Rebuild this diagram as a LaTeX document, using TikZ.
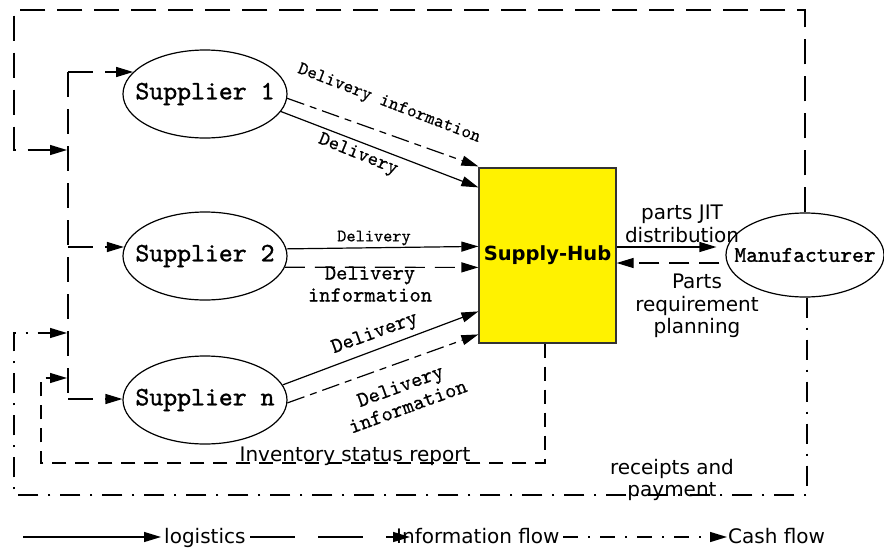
\documentclass[tikz,border=0pt]{standalone}
\usepackage{fontspec}
\newfontfamily\dvs{DejaVu Sans}
\newfontfamily\monof{lmmono10-regular.otf}[FakeBold=1.2]
\newfontfamily\monol{lmmono10-regular.otf}[FakeBold=0.6]
\usetikzlibrary{arrows.meta,shapes.geometric,calc}
\begin{document}
\begin{tikzpicture}[x=1pt,y=-1pt,
  every node/.style={inner sep=0pt},
  ln/.style={line width=1.2pt},
  tip/.style={-{Triangle[length=17pt,width=10pt]}},
  sup/.style={draw,ellipse,line width=1.2pt,minimum width=164pt,minimum height=88pt,
    font=\monof\fontsize{26.5}{30}\selectfont},
  logi/.style={ln,tip},
  infl/.style={ln,tip,dash pattern=on 18pt off 6pt on 7pt off 6pt},
  infd/.style={ln,tip,dash pattern=on 20pt off 10pt},
  bigdash/.style={line width=1.3pt,dash pattern=on 25pt off 12pt},
  invdash/.style={line width=1.2pt,dash pattern=on 14pt off 9pt},
  cash/.style={line width=1.3pt,dash pattern=on 20pt off 10pt on 2pt off 10pt},
  legdash/.style={line width=1.3pt,dash pattern=on 45pt off 23pt},
  legcash/.style={line width=1.3pt,dash pattern=on 15pt off 10pt on 2pt off 10pt},
  mono/.style={font=\monol\fontsize{21.5}{22}\selectfont,align=center},
  sans/.style={font=\dvs\fontsize{20}{22.5}\selectfont,align=center},
]
\useasboundingbox (0,0) rectangle (884,549);

% nodes
\node[sup] (s1) at (205,94) {\makebox[0pt]{Supplier 1}};
\node[sup] (s2) at (205,256) {\makebox[0pt]{Supplier 2}};
\node[sup] (sn) at (205,400) {\makebox[0pt]{Supplier n}};
\node[draw=black!80,fill=yellow,line width=1.2pt,minimum width=137pt,minimum height=175pt,
  font=\dvs\bfseries\fontsize{19.5}{22}\selectfont] (hub) at (547.5,255.5) {Supply-Hub};
\node[draw,ellipse,line width=1.2pt,minimum width=158pt,minimum height=84pt,
  font=\monof\fontsize{22.4}{24}\selectfont] (man) at (805,255) {\makebox[0pt]{Manufacturer}};

% supplier -> hub
\draw[infl] (s1.-3) -- ($(hub.north west)+(0,-1)$);
\draw[logi] (s1.-13) -- ($(hub.north west)+(0,20)$);
\draw[logi] (s2.5) -- ($(hub.north west)+(0,79)$);
\draw[infd] (s2.-8) -- ($(hub.north west)+(0,100)$);
\draw[logi] (sn.11) -- ($(hub.north west)+(0,144)$);
\draw[infl] (sn.-2) -- ($(hub.north west)+(0,167)$);

% hub <-> manufacturer
\draw[logi] ($(hub.east)+(0,-8.5)$) -- ($(man.west)+(-9,-8)$);
\draw[infd] ($(man.west)+(-6,8)$) -- ($(hub.east)+(0,7.5)$);

% trunk of information flow to suppliers
\coordinate (t1) at (68,72);
\coordinate (t2) at (68,247);
\coordinate (t3) at (68,399);
\draw[bigdash] (t1) -- (t3);
\draw[bigdash,tip] (t1) -- (t1 -| s1.163);
\draw[bigdash,tip] (t2) -- (t2 -| s2.174);
\draw[bigdash,tip] (t3) -- (t3 -| sn.west);

% big information loop from manufacturer
\coordinate (ia) at (805,10);
\coordinate (ib) at (14,10);
\coordinate (ic) at (14,150);
\coordinate (id) at (67,150);
\draw[bigdash,tip] (man.north) -- (ia) -- (ib) -- (ic) -- (id);

% cash loop
\coordinate (ca) at (807,495);
\coordinate (cb) at (14,495);
\coordinate (cc) at (14,333);
\coordinate (cd) at (67,333);
\draw[cash,tip] (man.south -| ca) -- (ca) -- (cb) -- (cc) -- (cd);

% inventory status report loop
\coordinate (va) at (545,463);
\coordinate (vb) at (41,463);
\coordinate (vc) at (41,378);
\coordinate (vd) at (67,378);
\draw[invdash,tip] (hub.south -| va) -- (va) -- (vb) -- (vc) -- (vd);

% labels
\node[mono,font=\monol\fontsize{18.5}{20}\selectfont,rotate=-21] (l1) at (389,104) {Delivery information};
\node[mono,font=\monol\fontsize{20}{22}\selectfont,rotate=-22] (l2) at (358,155) {Delivery};
\node[mono,font=\monol\fontsize{17.5}{20}\selectfont] (l3) at (374,238) {Delivery};
\node[mono] (l4) at (370,284) {Delivery\\information};
\node[mono,rotate=20] (l5) at (375,334) {Delivery};
\node[mono,rotate=20] (l6) at (404,396) {Delivery\\information};
\node[sans] (l7) at (682,224) {parts JIT\\distribution};
\node[sans] (l8) at (697,306) {Parts\\requirement\\planning};
\node[sans,anchor=base] (l9) at (355,461) {Inventory status report};
\node[sans] (l10) at (672,480) {receipts and\\payment};

% legend
\coordinate (g1a) at (23,537);
\coordinate (g1b) at (161,537);
\draw[logi] (g1a) -- (g1b);
\node[sans,anchor=base west] (g1) at (164,543) {logistics};
\coordinate (g2a) at (250,537);
\coordinate (g2b) at (410,537);
\draw[legdash,tip] (g2a) -- (g2b);
\node[sans,anchor=base west] (g2) at (396,543) {Information flow};
\coordinate (g3a) at (563,537);
\coordinate (g3b) at (727,537);
\draw[legcash,tip] (g3a) -- (g3b);
\node[sans,anchor=base west] (g3) at (728,543) {Cash flow};
\end{tikzpicture}
\end{document}
